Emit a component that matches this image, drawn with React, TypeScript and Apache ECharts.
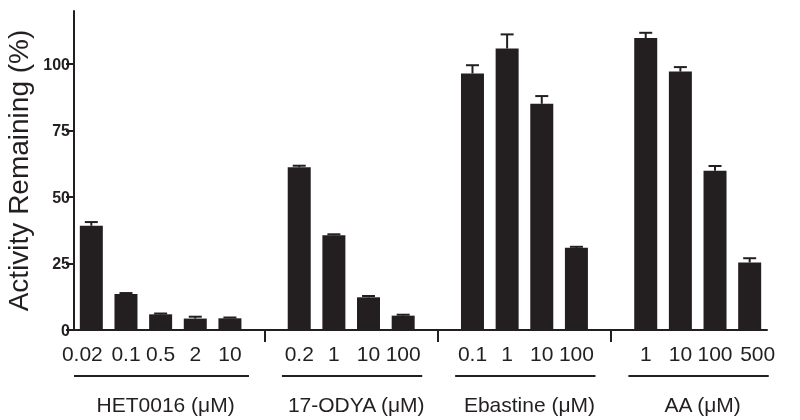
import React, { useEffect, useRef } from "react";
import * as echarts from "echarts";

const groupNames = ["HET0016 (μM)", "17-ODYA (μM)", "Ebastine (μM)", "AA (μM)"];
const doses = [
  ["0.02", "0.1", "0.5", "2", "10"],
  ["0.2", "1", "10", "100"],
  ["0.1", "1", "10", "100"],
  ["1", "10", "100", "500"],
];
const means = [
  [39.2, 13.5, 5.9, 4.3, 4.4],
  [61.2, 35.6, 12.3, 5.4],
  [96.5, 105.9, 85.1, 30.9],
  [109.8, 97.2, 59.9, 25.4],
];
const sems = [
  [1.4, 0.4, 0.3, 0.7, 0.3],
  [0.6, 0.4, 0.5, 0.35],
  [3.1, 5.3, 2.9, 0.4],
  [2.0, 1.7, 1.8, 1.6],
];
const yTicks = [0, 25, 50, 75, 100];

const INK = "#231f20";
const FONT = "Liberation Sans, Arial, Helvetica, sans-serif";
// horizontal nudge (px) of the very first and very last dose labels
const FIRST_LABEL_NUDGE = -9;
const LAST_LABEL_NUDGE = 8;

export default function App() {
  const ref = useRef<HTMLDivElement>(null);

  useEffect(() => {
    if (!ref.current) return;
    const chart = echarts.init(ref.current, undefined, { renderer: "svg" });

    const categories: string[] = [];
    const isGap: boolean[] = [];
    const barData: (number | string)[] = [];
    const errData: number[][] = [];
    const groupRanges: { first: number; last: number }[] = [];
    doses.forEach((g, gi) => {
      if (gi > 0) {
        categories.push(" ".repeat(gi));
        isGap.push(true);
        barData.push("-");
      }
      const first = categories.length;
      g.forEach((d, di) => {
        const idx = categories.length;
        categories.push(d);
        isGap.push(false);
        barData.push(means[gi][di]);
        errData.push([idx, means[gi][di], means[gi][di] + sems[gi][di]]);
      });
      groupRanges.push({ first, last: categories.length - 1 });
    });
    const lastIdx = categories.length - 1;
    const labelFont = { fontSize: 21, color: INK, fontFamily: FONT };

    const option: any = {
      animation: false,
      textStyle: { fontFamily: FONT },
      grid: {
        left: 74,
        right: 33,
        top: 11,
        bottom: 90,
        containLabel: false,
        outerBoundsMode: "none",
      },
      xAxis: {
        type: "category",
        data: categories,
        axisLine: { show: true, lineStyle: { color: INK, width: 2 } },
        axisTick: {
          show: true,
          alignWithLabel: true,
          interval: (index: number) => !!isGap[index],
          length: 12,
          lineStyle: { color: INK, width: 2 },
        },
        axisLabel: {
          interval: 0,
          ...labelFont,
          margin: 13,
          formatter: (value: string, index: number) => {
            if (index === 0) return `{l|${value}}`;
            if (index === lastIdx) return `{r|${value}}`;
            return value;
          },
          rich: {
            l: { ...labelFont, padding: [0, -2 * FIRST_LABEL_NUDGE, 0, 0] },
            r: { ...labelFont, padding: [0, 0, 0, 2 * LAST_LABEL_NUDGE] },
          },
        },
        splitLine: { show: false },
      },
      yAxis: {
        type: "value",
        min: 0,
        max: 120,
        interval: 25,
        name: "Activity Remaining (%)",
        nameLocation: "middle",
        nameGap: 42,
        nameTextStyle: { fontSize: 28, color: INK, fontFamily: FONT },
        axisLine: { show: true, lineStyle: { color: INK, width: 2 } },
        axisTick: {
          show: true,
          length: 8,
          customValues: yTicks,
          lineStyle: { color: INK, width: 2 },
        },
        axisLabel: {
          customValues: yTicks,
          fontSize: 16,
          fontWeight: "bold",
          color: INK,
          fontFamily: FONT,
          margin: 4,
        },
        splitLine: { show: false },
      },
      series: [
        {
          type: "bar",
          data: barData,
          barWidth: 23,
          itemStyle: { color: INK },
        },
        {
          type: "custom",
          data: errData,
          encode: { x: 0, y: [1, 2] },
          z: 1,
          renderItem: (params: any, api: any) => {
            const x = api.value(0);
            const lo = api.coord([x, api.value(1)]);
            const hi = api.coord([x, api.value(2)]);
            const hw = 6.5;
            return {
              type: "group",
              children: [
                {
                  type: "line",
                  shape: { x1: lo[0], y1: lo[1], x2: hi[0], y2: hi[1] },
                  style: { stroke: INK, lineWidth: 2 },
                },
                {
                  type: "line",
                  shape: { x1: hi[0] - hw, y1: hi[1], x2: hi[0] + hw, y2: hi[1] },
                  style: { stroke: INK, lineWidth: 2 },
                },
              ],
            };
          },
        },
      ],
    };
    chart.setOption(option);

    const px = (i: number) => chart.convertToPixel({ xAxisIndex: 0 }, i) as number;
    const band = px(1) - px(0);
    const graphics: any[] = [];
    groupRanges.forEach((r, gi) => {
      const x1 = px(r.first) - band * 0.5;
      const x2 = px(r.last) + band * 0.55;
      const mid = (px(r.first) + px(r.last)) / 2 + 5;
      graphics.push({
        type: "line",
        shape: { x1, y1: 376, x2, y2: 376 },
        style: { stroke: INK, lineWidth: 2 },
        silent: true,
      });
      graphics.push({
        type: "text",
        x: mid,
        y: 404,
        style: {
          text: groupNames[gi],
          fontSize: 21,
          fontFamily: FONT,
          fill: INK,
          align: "center",
          verticalAlign: "middle",
        },
        silent: true,
      });
    });
    chart.setOption({ graphic: graphics });

    return () => chart.dispose();
  }, []);

  return (
    <div
      ref={ref}
      style={{ position: "fixed", left: 0, top: 0, width: 800, height: 420 }}
    />
  );
}
